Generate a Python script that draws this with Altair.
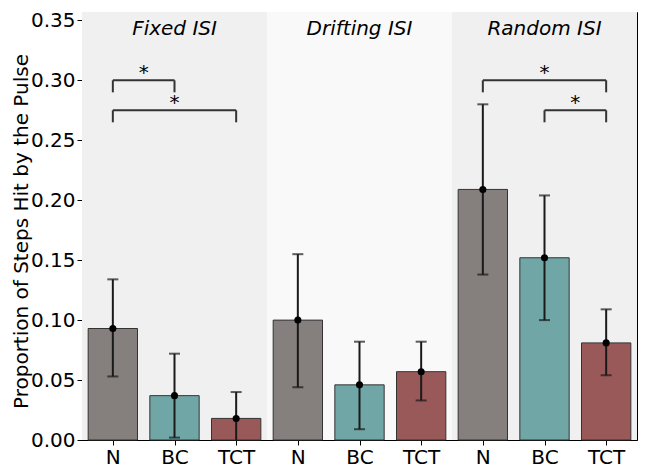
import altair as alt
import pandas as pd

groups = ["Fixed ISI", "Drifting ISI", "Random ISI"]
conditions = ["N", "BC", "TCT"]
means = [0.093, 0.037, 0.018, 0.100, 0.046, 0.057, 0.209, 0.152, 0.081]
ci_low = [0.053, 0.002, -0.004, 0.044, 0.009, 0.033, 0.138, 0.100, 0.054]
ci_high = [0.134, 0.072, 0.040, 0.155, 0.082, 0.082, 0.280, 0.204, 0.109]
sig_left = [0, 0, 6, 7]
sig_right = [1, 2, 8, 8]
sig_y = [0.300, 0.275, 0.300, 0.275]
sig_text = ["*", "*", "*", "*"]

cond_colors = ["#857f7e", "#71a6a6", "#9a5959"]
bg_colors = ["#f0f0f0", "#f9f9f9", "#f0f0f0"]
FONT = "DejaVu Sans"

rows = []
for gi, g in enumerate(groups):
    for ci, c in enumerate(conditions):
        i = gi * len(conditions) + ci
        rows.append(dict(pos=i, cond=c, group=g, mean=means[i], lo=ci_low[i], hi=ci_high[i],
                         x0=i - 0.4, x1=i + 0.4, zero=0.0))
df = pd.DataFrame(rows)

bg = pd.DataFrame([dict(x0=gi * 3 - 0.5, x1=gi * 3 + 2.5, center=gi * 3 + 1, label=g,
                        fill=bg_colors[gi], ylab=0.3425, y0=0.0, y1=0.357)
                   for gi, g in enumerate(groups)])

br_rows, leg_rows, star_rows = [], [], []
for a, b, y, t in zip(sig_left, sig_right, sig_y, sig_text):
    br_rows.append(dict(xa=a, xb=b, y=y))
    leg_rows.append(dict(x=a, ya=y - 0.01, yb=y))
    leg_rows.append(dict(x=b, ya=y - 0.01, yb=y))
    star_rows.append(dict(x=(a + b) / 2, y=y, t=t))
br = pd.DataFrame(br_rows)
legs = pd.DataFrame(leg_rows)
stars = pd.DataFrame(star_rows)

n = len(df)
xscale = alt.Scale(domain=[-0.5, n - 0.5], nice=False, zero=False)
yscale = alt.Scale(domain=[0, 0.357], nice=False, zero=False)
label_arr = "[" + ",".join("'%s'" % c for c in df["cond"]) + "]"

xaxis = alt.Axis(values=list(range(n)), labelExpr=label_arr + "[datum.value]", title=None,
                 grid=False, tickSize=5, labelPadding=2)
yaxis = alt.Axis(values=[0, 0.05, 0.10, 0.15, 0.20, 0.25, 0.30, 0.35], format=".2f", grid=False,
                 title="Proportion of Steps Hit by the Pulse", tickSize=5, labelPadding=2,
                 titleX=-51, titleY=219, titleAngle=270, titleBaseline="bottom", titleAlign="center")

background = alt.Chart(bg).mark_rect().encode(
    x=alt.X("x0:Q", scale=xscale, axis=xaxis), x2="x1:Q",
    y=alt.Y("y0:Q", scale=yscale, axis=yaxis), y2="y1:Q",
    fill=alt.Fill("fill:N", scale=None))

titles = alt.Chart(bg).mark_text(fontSize=20, fontStyle="italic", font=FONT, baseline="middle",
                                 color="black").encode(
    x=alt.X("center:Q", scale=xscale), y=alt.Y("ylab:Q", scale=yscale), text="label:N")

bars = alt.Chart(df).mark_rect(stroke="#333333", strokeWidth=1).encode(
    x=alt.X("x0:Q", scale=xscale), x2="x1:Q",
    y=alt.Y("zero:Q", scale=yscale), y2="mean:Q",
    fill=alt.Fill("cond:N", scale=alt.Scale(domain=conditions, range=cond_colors), legend=None))

err = alt.Chart(df).mark_rule(color="#1a1a1a", strokeWidth=2, clip=True).encode(
    x=alt.X("pos:Q", scale=xscale), y=alt.Y("lo:Q", scale=yscale), y2="hi:Q")
cap_hi = alt.Chart(df).mark_tick(color="#1a1a1a", orient="horizontal", size=11, thickness=2, clip=True).encode(
    x=alt.X("pos:Q", scale=xscale), y=alt.Y("hi:Q", scale=yscale))
cap_lo = alt.Chart(df).mark_tick(color="#1a1a1a", orient="horizontal", size=11, thickness=2, clip=True).encode(
    x=alt.X("pos:Q", scale=xscale), y=alt.Y("lo:Q", scale=yscale))
pts = alt.Chart(df).mark_point(filled=True, color="black", size=50, opacity=1).encode(
    x=alt.X("pos:Q", scale=xscale), y=alt.Y("mean:Q", scale=yscale))

br_h = alt.Chart(br).mark_rule(color="#333333", strokeWidth=2).encode(
    x=alt.X("xa:Q", scale=xscale), x2="xb:Q", y=alt.Y("y:Q", scale=yscale))
br_v = alt.Chart(legs).mark_rule(color="#333333", strokeWidth=2).encode(
    x=alt.X("x:Q", scale=xscale), y=alt.Y("ya:Q", scale=yscale), y2="yb:Q")
star = alt.Chart(stars).mark_text(fontSize=20, font=FONT, baseline="bottom", dy=3, color="black").encode(
    x=alt.X("x:Q", scale=xscale), y=alt.Y("y:Q", scale=yscale), text="t:N")

chart = alt.layer(background, titles, bars, err, cap_hi, cap_lo, pts, br_h, br_v, star).properties(
    width=555, height=428,
    autosize=alt.AutoSizeParams(type="none"),
    padding={"left": 74, "top": 4, "right": 1, "bottom": 27},
).configure_view(stroke="black", strokeWidth=1).configure_axis(
    labelFont=FONT, titleFont=FONT, labelFontSize=20, titleFontSize=20,
    labelColor="black", titleColor="black", tickColor="black", domainColor="black",
    titleFontWeight="normal", domain=True,
)

chart.save("out.html", embed_options={"renderer": "svg", "actions": False})
